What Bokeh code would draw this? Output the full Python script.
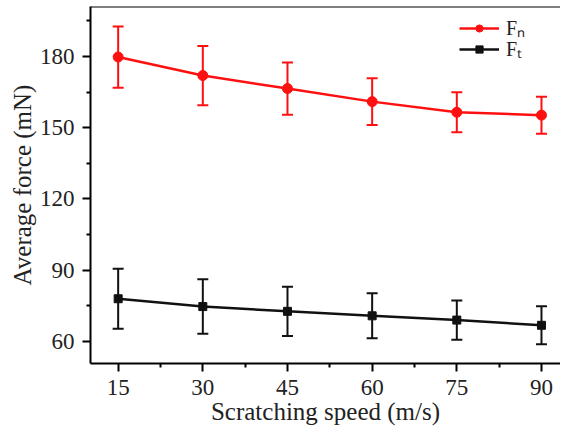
from bokeh.plotting import figure
from bokeh.models import (ColumnDataSource, Whisker, TeeHead, FixedTicker, Span,
                          Legend, LegendItem, Range1d)
from bokeh.embed import file_html
from bokeh.resources import INLINE

speed = [15, 30, 45, 60, 75, 90]
fn = [179.8, 172.0, 166.5, 161.0, 156.5, 155.3]
fn_err = [12.9, 12.5, 11.0, 9.9, 8.4, 7.8]
ft = [77.9, 74.6, 72.6, 70.7, 68.9, 66.7]
ft_err = [12.6, 11.5, 10.4, 9.5, 8.3, 8.0]

x_ticks = [15, 30, 45, 60, 75, 90]
x_minor = [22.5, 37.5, 52.5, 67.5, 82.5]
y_ticks = [60, 90, 120, 150, 180]
y_minor = [75, 105, 135, 165, 195]

FONT = "Liberation Serif"
Y_START, Y_END = 50.6, 201.1

src_n = ColumnDataSource(dict(x=speed, y=fn,
                              lo=[v - e for v, e in zip(fn, fn_err)],
                              hi=[v + e for v, e in zip(fn, fn_err)]))
src_t = ColumnDataSource(dict(x=speed, y=ft,
                              lo=[v - e for v, e in zip(ft, ft_err)],
                              hi=[v + e for v, e in zip(ft, ft_err)]))

p = figure(width=560, height=428, output_backend="svg", toolbar_location=None,
           x_range=Range1d(10.1, 93.37), y_range=Range1d(Y_START, Y_END),
           x_axis_label="Scratching speed (m/s)", y_axis_label="Average force (mN)")
p.min_border = 0
p.min_border_left = 90
p.min_border_right = 0
p.min_border_top = 6
p.min_border_bottom = 65
p.outline_line_color = None
p.grid.visible = False
p.background_fill_color = "white"
p.border_fill_color = "white"

for ax in (p.xaxis[0], p.yaxis[0]):
    ax.axis_line_width = 2
    ax.axis_line_color = "black"
    ax.major_tick_line_width = 2
    ax.minor_tick_line_width = 2
    ax.major_tick_line_color = "black"
    ax.minor_tick_line_color = "black"
    ax.major_tick_in = 0
    ax.minor_tick_in = 0
    ax.major_tick_out = 8
    ax.minor_tick_out = 4
    ax.major_label_text_font = FONT
    ax.major_label_text_font_size = "23px"
    ax.major_label_text_color = "#222222"
    ax.axis_label_text_font = FONT
    ax.axis_label_text_font_size = "25px"
    ax.axis_label_text_font_style = "normal"
    ax.axis_label_text_color = "#222222"

p.xaxis[0].ticker = FixedTicker(ticks=x_ticks, minor_ticks=x_minor)
p.yaxis[0].ticker = FixedTicker(ticks=y_ticks, minor_ticks=y_minor)
p.xaxis[0].major_label_standoff = 8
p.xaxis[0].axis_label_standoff = 0
p.yaxis[0].major_label_standoff = 8
p.yaxis[0].axis_label_standoff = 1

top_line = Span(location=Y_END, dimension="width", line_color="black", line_width=2)
p.add_layout(top_line)

RED = "#FF1010"
BLK = "#111111"

for src, col in ((src_n, RED), (src_t, BLK)):
    w = Whisker(base="x", upper="hi", lower="lo", source=src, dimension="height",
                line_color=col, line_width=2,
                upper_head=TeeHead(size=11, line_color=col, line_width=2),
                lower_head=TeeHead(size=11, line_color=col, line_width=2))
    w.level = "glyph"
    p.add_layout(w)

ln = p.line("x", "y", source=src_n, line_color=RED, line_width=2.5)
mn = p.scatter("x", "y", source=src_n, marker="circle", size=10, fill_color=RED, line_color=RED)
lt = p.line("x", "y", source=src_t, line_color=BLK, line_width=2.5)
mt = p.scatter("x", "y", source=src_t, marker="square", size=8, fill_color=BLK, line_color=BLK)

legend_style = dict(glyph_width=40, glyph_height=18, label_height=18,
                    spacing=0, padding=0, margin=0, label_standoff=7,
                    border_line_color=None, background_fill_alpha=0,
                    label_text_font=FONT, label_text_font_size="20px",
                    label_text_color="#222222")
leg_n = Legend(items=[LegendItem(label="F\u2099", renderers=[ln, mn])],
               location=(369, 322), **legend_style)
leg_t = Legend(items=[LegendItem(label="F\u209C", renderers=[lt, mt])],
               location=(369, 301), **legend_style)
p.add_layout(leg_n)
p.add_layout(leg_t)

open("out.html", "w").write(file_html(p, INLINE))
